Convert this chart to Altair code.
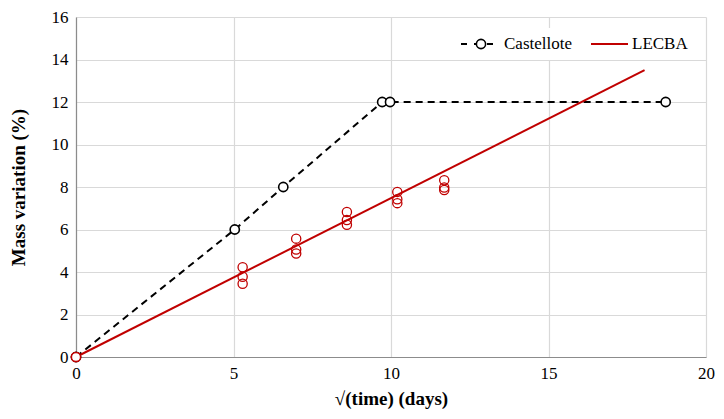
import altair as alt
import pandas as pd

# Castellote data (sqrt time, mass variation %)
cast_x = [0.0, 5.04, 6.58, 9.72, 9.97, 18.72]
cast_y = [0.0, 6.0, 8.0, 12.0, 12.0, 12.0]

# LECBA measured points
lec_x = [0.0, 5.29, 5.29, 5.29, 6.99, 6.99, 6.99, 8.6, 8.6, 8.6, 10.2, 10.2, 10.2, 11.69, 11.69, 11.69]
lec_y = [0.0, 4.22, 3.78, 3.45, 5.57, 5.06, 4.87, 6.82, 6.45, 6.22, 7.77, 7.42, 7.24, 8.32, 7.98, 7.86]

# LECBA linear fit line end points
fit_x = [0.0, 18.05]
fit_y = [0.0, 13.5]

legend_labels = ["Castellote", "LECBA"]

RED = "#C00000"
FONT = "Liberation Serif"

cast_df = pd.DataFrame({"x": cast_x, "y": cast_y})
lec_df = pd.DataFrame({"x": lec_x, "y": lec_y})
fit_df = pd.DataFrame({"x": fit_x, "y": fit_y})

xs = alt.Scale(domain=[0, 20], nice=False)
ys = alt.Scale(domain=[0, 16], nice=False)

X = alt.X("x:Q", scale=xs, axis=alt.Axis(values=[0, 5, 10, 15, 20], title="√(time) (days)",
                                          titlePadding=8, labelFlush=False))
Y = alt.Y("y:Q", scale=ys, axis=alt.Axis(values=list(range(0, 17, 2)), title="Mass variation (%)",
                                          titlePadding=23, labelFlush=False))

cast_line = alt.Chart(cast_df).mark_line(color="black", strokeWidth=2, strokeDash=[7, 5]).encode(x=X, y=Y)
cast_pts = alt.Chart(cast_df).mark_point(shape="circle", filled=True, fill="white", stroke="black",
                                         strokeWidth=1.6, size=85, opacity=1).encode(x=X, y=Y)
fit_line = alt.Chart(fit_df).mark_line(color=RED, strokeWidth=2).encode(x=X, y=Y)
lec_pts = alt.Chart(lec_df).mark_point(shape="circle", filled=False, stroke=RED, strokeWidth=1.3,
                                       size=85, opacity=1, clip=False).encode(x=X, y=Y)
lec0 = alt.Chart(lec_df.head(1)).mark_point(shape="circle", filled=True, fill="white", stroke=RED,
                                            strokeWidth=1.5, size=85, opacity=1, clip=False).encode(x=X, y=Y)

# legend (manual)
leg_bg = alt.Chart(pd.DataFrame({"a": [0]})).mark_rect(color="white").encode(
    x=alt.value(376), x2=alt.value(622), y=alt.value(11), y2=alt.value(43))
leg_c_line = alt.Chart(pd.DataFrame({"a": [0]})).mark_rule(color="black", strokeWidth=2, strokeDash=[6, 7]).encode(
    x=alt.value(385), x2=alt.value(424), y=alt.value(27))
leg_c_pt = alt.Chart(pd.DataFrame({"a": [0]})).mark_point(shape="circle", filled=True, fill="white", stroke="black",
                                                          strokeWidth=1.6, size=85, opacity=1).encode(
    x=alt.value(405), y=alt.value(27))
leg_c_txt = alt.Chart(pd.DataFrame({"t": [legend_labels[0]]})).mark_text(
    font=FONT, fontSize=17, align="left", baseline="middle", color="black").encode(
    x=alt.value(428), y=alt.value(27), text="t:N")
leg_l_line = alt.Chart(pd.DataFrame({"a": [0]})).mark_rule(color=RED, strokeWidth=2).encode(
    x=alt.value(515), x2=alt.value(552), y=alt.value(27))
leg_l_txt = alt.Chart(pd.DataFrame({"t": [legend_labels[1]]})).mark_text(
    font=FONT, fontSize=17, align="left", baseline="middle", color="black").encode(
    x=alt.value(556), y=alt.value(27), text="t:N")

chart = alt.layer(
    cast_line, fit_line, cast_pts, lec_pts, lec0,
    leg_bg, leg_c_line, leg_c_pt, leg_c_txt, leg_l_line, leg_l_txt
).properties(
    width=630, height=340,
    autosize=alt.AutoSizeParams(type="none"),
    padding={"left": 68, "top": 9, "right": 9, "bottom": 54},
).configure_view(stroke=None).configure_axis(
    labelFont=FONT, labelFontSize=17, labelColor="black",
    titleFont=FONT, titleFontSize=19, titleFontWeight="bold", titleColor="black",
    domainColor="#8c8c8c", domainWidth=1.2, gridColor="#d9d9d9", gridWidth=1.2,
    ticks=False, labelPadding=8,
)

chart.save("out.html", embed_options={"renderer": "svg", "actions": False})
